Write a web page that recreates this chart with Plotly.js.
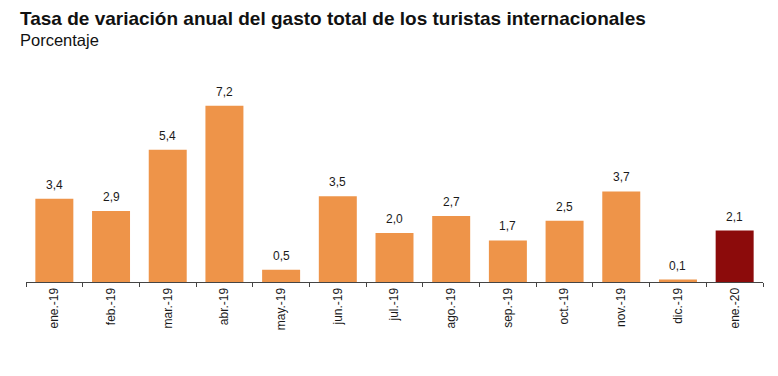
<!DOCTYPE html>
<html><head><meta charset="utf-8">
<script src="https://cdn.plot.ly/plotly-3.0.1.min.js"></script>
<style>body{margin:0;background:#fff}#c{width:778px;height:376px}</style>
</head><body><div id="c"></div>
<script>
const categories = ["ene.-19","feb.-19","mar.-19","abr.-19","may.-19","jun.-19","jul.-19","ago.-19","sep.-19","oct.-19","nov.-19","dic.-19","ene.-20"];
const values = [3.4,2.9,5.4,7.2,0.5,3.5,2.0,2.7,1.7,2.5,3.7,0.1,2.1];
const labels = values.map(v => v.toFixed(1).replace('.', ','));
const colors = values.map((v,i) => i === values.length-1 ? '#8C0B0B' : '#EE9449');

const trace = {
  type: 'bar', x: categories, y: values,
  marker: {color: colors, line: {width: 0}},
  hoverinfo: 'none'
};
const annotations = categories.map((c,i) => ({
  x: c, y: values[i], xref: 'x', yref: 'y', text: labels[i],
  showarrow: false, yanchor: 'bottom', yshift: 5,
  font: {family: 'Liberation Sans, Arial, sans-serif', size: 12, color: '#1a1a1a'}
}));
annotations.push({
  xref: 'paper', yref: 'paper', x: -0.011, y: 1.302, xanchor: 'left', yanchor: 'middle',
  text: '<b>Tasa de variación anual del gasto total de los turistas internacionales</b>',
  showarrow: false, font: {family: 'Liberation Sans, Arial, sans-serif', size: 19, color: '#111'}
});
annotations.push({
  xref: 'paper', yref: 'paper', x: -0.011, y: 1.198, xanchor: 'left', yanchor: 'middle',
  text: 'Porcentaje',
  showarrow: false, font: {family: 'Liberation Sans, Arial, sans-serif', size: 16.5, color: '#111'}
});
const layout = {
  width: 778, height: 376,
  margin: {l: 26, r: 15, t: 80, b: 94},
  paper_bgcolor: '#fff', plot_bgcolor: '#fff',
  bargap: 0.33, showlegend: false,
  xaxis: {
    type: 'category', range: [-0.5, 12.5], tickangle: -90,
    ticks: 'outside', tickson: 'boundaries', ticklen: 4, tickcolor: '#444', tickwidth: 1,
    showline: true, linecolor: '#444', linewidth: 1, showgrid: false,
    tickfont: {family: 'Liberation Sans, Arial, sans-serif', size: 12, color: '#1a1a1a'}
  },
  yaxis: {range: [0, 8.25], visible: false, showgrid: false, zeroline: false},
  annotations: annotations
};
Plotly.newPlot('c', [trace], layout, {displayModeBar: false, staticPlot: true});
</script></body></html>
